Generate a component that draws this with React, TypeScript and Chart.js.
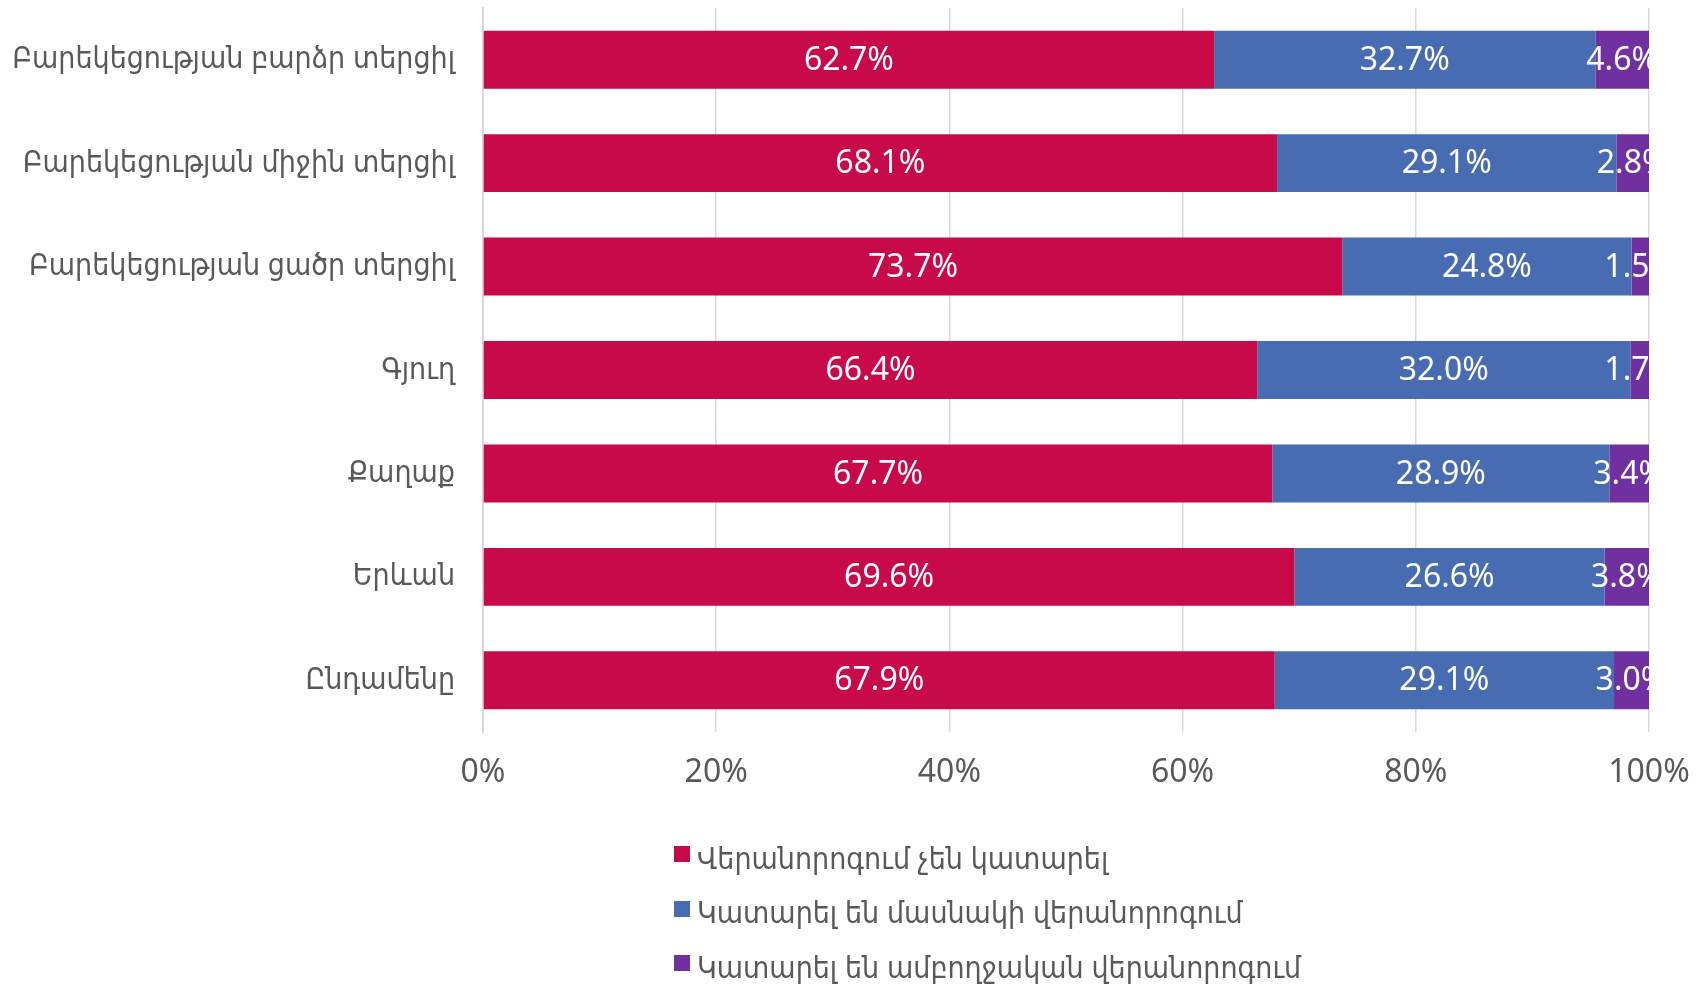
import React, { useEffect, useRef } from "react";
import { Chart, registerables } from "chart.js";

Chart.register(...registerables);

const categories = [
  "Բարեկեցության բարձր տերցիլ",
  "Բարեկեցության միջին տերցիլ",
  "Բարեկեցության ցածր տերցիլ",
  "Գյուղ",
  "Քաղաք",
  "Երևան",
  "Ընդամենը",
];

const seriesNames = [
  "Վերանորոգում չեն կատարել",
  "Կատարել են մասնակի վերանորոգում",
  "Կատարել են ամբողջական վերանորոգում",
];

const notRenovated = [62.7, 68.1, 73.7, 66.4, 67.7, 69.6, 67.9];
const partial = [32.7, 29.1, 24.8, 32.0, 28.9, 26.6, 29.1];
const full = [4.6, 2.8, 1.5, 1.7, 3.4, 3.8, 3.0];

const seriesColors = ["#C80A4B", "#476CB1", "#7030A0"];

const xTicks = [0, 20, 40, 60, 80, 100];

const FONT = "'Noto Sans', 'DejaVu Sans Condensed', 'DejaVu Sans', sans-serif";

const dataLabelPlugin = {
  id: "dataLabels",
  afterDatasetsDraw(chart: any) {
    const ctx = chart.ctx;
    const area = chart.chartArea;
    ctx.save();
    ctx.beginPath();
    ctx.rect(area.left, area.top, area.right - area.left, area.bottom - area.top);
    ctx.clip();
    ctx.fillStyle = "#FFFFFF";
    ctx.font = `32px ${FONT}`;
    ctx.textAlign = "center";
    ctx.textBaseline = "middle";
    chart.data.datasets.forEach((ds: any, di: number) => {
      const meta = chart.getDatasetMeta(di);
      meta.data.forEach((bar: any, i: number) => {
        const v = ds.data[i];
        const cx = (bar.x + bar.base) / 2;
        ctx.fillText(v.toFixed(1) + "%", cx, bar.y + 1);
      });
    });
    ctx.restore();
  },
};

export default function App() {
  const ref = useRef<HTMLCanvasElement | null>(null);

  useEffect(() => {
    if (!ref.current) return;
    const allSeries = [notRenovated, partial, full];
    const chart = new Chart(ref.current, {
      type: "bar",
      data: {
        labels: categories,
        datasets: allSeries.map((d, i) => ({
          label: seriesNames[i],
          data: d,
          backgroundColor: seriesColors[i],
          borderWidth: 0,
          barPercentage: 0.56,
          categoryPercentage: 1,
        })),
      },
      options: {
        indexAxis: "y",
        animation: false,
        responsive: false,
        maintainAspectRatio: false,
        layout: { padding: { top: 8, right: 56, bottom: 190, left: 0 } },
        plugins: {
          legend: { display: false },
          tooltip: { enabled: false },
        },
        scales: {
          x: {
            stacked: true,
            min: 0,
            max: 100,
            afterBuildTicks: (scale: any) => {
              scale.ticks = xTicks.map((v) => ({ value: v }));
            },
            afterFit: (scale: any) => {
              scale.height = 62;
              scale.paddingLeft = 0;
              scale.paddingRight = 0;
            },
            grid: { color: "#D9D9D9", lineWidth: 1.5, drawTicks: false },
            border: { display: false },
            ticks: {
              padding: 22,
              color: "#595959",
              font: { family: FONT, size: 32 },
              callback: (v: any) => v + "%",
            },
          },
          y: {
            stacked: true,
            afterFit: (scale: any) => {
              scale.width = 483;
              scale.paddingTop = 0;
              scale.paddingBottom = 0;
            },
            grid: { display: false, drawTicks: false },
            border: { display: true, color: "#D9D9D9", width: 2 },
            ticks: {
              padding: 28,
              color: "#595959",
              font: { family: FONT, size: 30 },
            },
          },
        },
      },
      plugins: [dataLabelPlugin],
    });
    return () => chart.destroy();
  }, []);

  return (
    <div style={{ position: "absolute", left: 0, top: 0, width: 1705, height: 984, background: "#fff" }}>
      <canvas ref={ref} width={1705} height={984} style={{ display: "block" }} />
      <div style={{ position: "absolute", left: 674, top: 830, fontFamily: FONT, fontSize: 30, color: "#595959" }}>
        {seriesNames.map((n, i) => (
          <div key={n} style={{ display: "flex", alignItems: "center", height: 54.5 }}>
            <span style={{ width: 16, height: 16, background: seriesColors[i], marginRight: 7, display: "inline-block", marginTop: -6 }} />
            <span>{n}</span>
          </div>
        ))}
      </div>
    </div>
  );
}
